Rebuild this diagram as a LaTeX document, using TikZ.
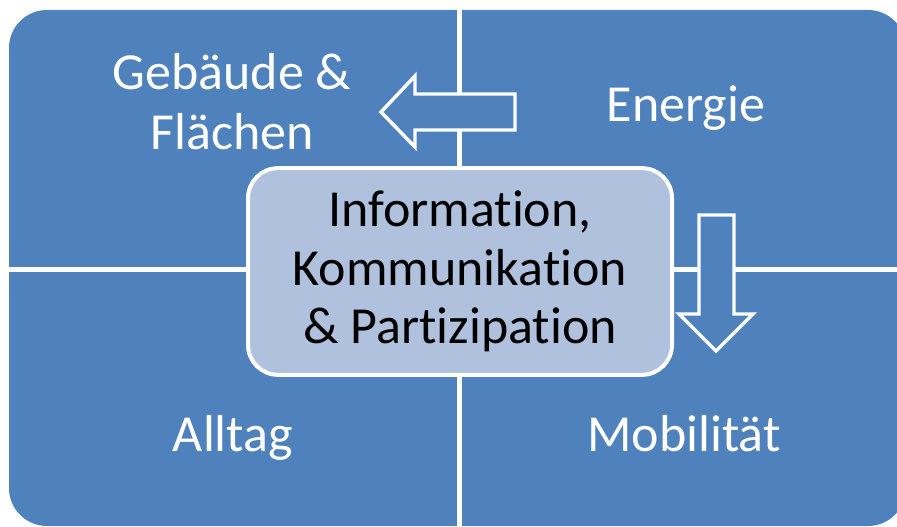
\documentclass[tikz,border=0pt]{standalone}
\usepackage{fontspec}
\setmainfont{Carlito}[Ligatures=NoCommon]
\definecolor{quadblue}{RGB}{79,129,189}
\definecolor{coreblue}{RGB}{176,193,221}
\tikzset{every picture/.style={line width=0.75pt}}
\tikzset{
	quad label/.style={text=white, font=\fontsize{39}{45}\selectfont, align=center, anchor=base, inner sep=0pt},
	core box/.style={draw=white, line width=3pt, fill=coreblue, rounded corners=22.5pt, minimum width=318pt, minimum height=155pt, font=\fontsize{39}{44}\selectfont, align=center, inner sep=0pt},
	block arrow/.style={draw=white, line width=2.6pt, fill=quadblue, line join=miter}}

\begin{document}
\begin{tikzpicture}[x=0.75pt,y=0.75pt,yscale=-1,xscale=1]
	\useasboundingbox (0,0) rectangle (897,527);
	\clip (0,0) rectangle (897,527);

	%Shape: Rounded Rect
	\fill [quadblue, rounded corners=28.5pt] (9,10) rectangle (906,526) ;
	%Straight Lines
	\draw [white, line width=3.75pt] (459,0) -- (459,527) ;
	%Straight Lines
	\draw [white, line width=3.75pt] (0,270) -- (897,270) ;

	%Shape: Left Arrow
	\draw [block arrow] (381,112) -- (415,76) -- (415,94) -- (515,94) -- (515,130) -- (415,130) -- (415,147) -- cycle ;
	%Shape: Down Arrow
	\draw [block arrow] (699,215) -- (734,215) -- (734,314) -- (753,314) -- (716,351) -- (679,314) -- (699,314) -- cycle ;

	%Shape: Rounded Rect
	\node [core box] (core) at (460,271.5) {Information,\\Kommunikation\\\& Partizipation};

	% Text Node
	\node [quad label] (gebaeude) at (232,150) {Gebäude \&\\Flächen};
	% Text Node
	\node [quad label] (energie) at (686,122) {Energie};
	% Text Node
	\node [quad label] (alltag) at (233,452) {Alltag};
	% Text Node
	\node [quad label] (mobil) at (684,452) {Mobilität};

\end{tikzpicture}
\end{document}
